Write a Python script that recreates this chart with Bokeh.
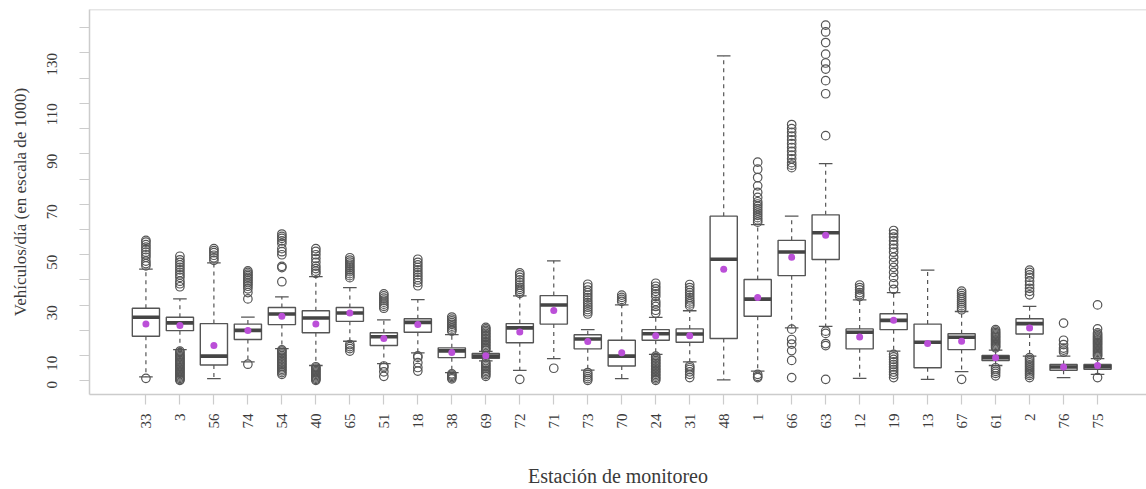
import math
import numpy as np
from bokeh.plotting import figure
from bokeh.models import Range1d, FixedTicker, Span
from bokeh.embed import file_html
from bokeh.resources import INLINE

# Monitoring stations, in plotting order
stations = ["33", "3", "56", "74", "54", "40", "65", "51", "18", "38", "69", "72", "71",
            "73", "70", "24", "31", "48", "1", "66", "63", "12", "19", "13", "67", "61",
            "2", "76", "75"]

# Five-number summaries (thousands of vehicles per day)
whisker_lo = [1.6, 12.4, 0.9, 7.5, 12.8, 6.1, 15.7, 6.8, 11.1, 3.3, 7.9, 4.2, 8.8,
              4.3, 0.9, 10.5, 7.5, 0.4, 3.9, 21.0, 21.6, 1.0, 11.8, 0.6, 3.7, 6.1,
              9.8, 1.3, 2.6]
q1 = [17.7, 19.9, 6.3, 16.4, 22.3, 19.1, 23.6, 14.0, 19.3, 9.2, 8.9, 15.1, 22.5,
      12.7, 5.9, 16.1, 15.3, 16.8, 25.6, 41.7, 48.1, 12.7, 20.3, 5.2, 12.4, 8.1,
      18.6, 4.2, 4.6]
median = [25.2, 23.0, 9.8, 20.0, 26.5, 24.9, 26.9, 17.5, 23.2, 11.9, 9.8, 21.0, 30.1,
          16.6, 9.8, 18.7, 18.6, 48.2, 32.4, 51.1, 58.7, 19.3, 24.0, 15.3, 17.3, 9.2,
          22.7, 5.5, 5.6]
q3 = [28.8, 25.2, 22.7, 22.5, 29.1, 27.8, 29.1, 19.1, 24.6, 13.1, 10.9, 22.7, 33.8,
      18.3, 16.1, 20.3, 20.6, 65.3, 40.2, 55.7, 65.8, 20.6, 26.6, 22.5, 18.7, 10.1,
      24.6, 6.5, 6.5]
whisker_hi = [44.3, 32.5, 46.8, 25.3, 33.3, 41.3, 37.0, 24.2, 32.2, 18.3, 11.7, 33.7, 47.6,
              20.3, 30.1, 25.2, 27.8, 128.8, 61.9, 65.3, 86.1, 32.1, 35.0, 43.9, 27.5, 12.2,
              29.5, 9.8, 8.8]
means = [22.5, 21.9, 14.0, 20.0, 25.6, 22.5, 26.9, 16.8, 22.3, 11.2, 10.0, 19.4, 27.9,
         15.6, 11.1, 17.9, 17.9, 44.2, 33.0, 49.0, 57.7, 17.4, 24.0, 14.8, 15.7, 9.2,
         21.0, 5.5, 6.1]

# Atypical daily counts per station
outliers = [
    [1.0, 45.6, 46.5, 47.5, 49.0, 50.0, 51.0, 52.0, 53.0, 54.0, 55.0, 55.7],
    [37.3, 38.5, 39.5, 41.0, 42.0, 43.0, 44.0, 45.0, 46.0, 47.0, 48.0, 49.4,
     11.8, 11.2, 10.5, 10.0, 9.5, 9.0, 8.5, 8.0, 7.5, 7.0, 6.5, 6.0, 5.5, 5.0,
     4.5, 4.0, 3.5, 3.0, 2.5, 2.0, 1.5, 1.0, 0.5, 0.2],
    [47.8, 48.8, 49.8, 50.8, 51.6, 52.4],
    [6.6, 32.5, 35.0, 36.5, 37.5, 38.3, 39.0, 39.7, 40.4, 41.0, 41.7, 42.3, 43.0, 43.6],
    [39.3, 44.9, 45.4, 50.0, 51.2, 52.4, 54.5, 55.5, 56.5, 57.3, 58.2,
     12.3, 11.8, 11.2, 10.6, 10.0, 9.4, 8.8, 8.2, 7.6, 7.0, 6.4, 5.8, 5.2, 4.6,
     4.0, 3.3, 2.6],
    [42.6, 43.5, 44.5, 45.5, 47.0, 48.5, 50.0, 51.3, 52.4,
     5.6, 5.1, 4.6, 4.1, 3.6, 3.1, 2.6, 2.1, 1.6, 1.1, 0.6, 0.2],
    [40.9, 41.7, 42.5, 43.3, 44.0, 44.8, 45.5, 46.3, 47.1, 47.9, 48.8,
     14.4, 13.6, 12.8, 11.8],
    [28.8, 29.6, 30.4, 31.2, 32.0, 32.8, 33.7, 34.5, 5.9, 5.3, 3.6, 1.8],
    [37.7, 39.0, 40.0, 41.0, 42.0, 43.0, 44.0, 45.0, 46.0, 47.0, 48.2,
     9.9, 9.3, 7.2, 5.3, 3.9],
    [19.7, 20.3, 21.0, 21.7, 22.4, 23.1, 23.8, 24.5, 25.3, 2.8, 2.3, 1.8, 1.3, 0.8],
    [12.2, 12.8, 13.4, 14.0, 14.6, 15.2, 15.8, 16.4, 17.0, 17.6, 18.2, 18.8, 19.4,
     20.0, 20.6, 21.2, 7.3, 6.7, 6.1, 5.5, 4.9, 4.3, 3.7, 3.1, 2.5, 1.8],
    [34.7, 35.5, 36.3, 37.1, 38.0, 39.0, 40.0, 41.0, 42.0, 42.8, 0.6],
    [5.0],
    [26.5, 27.4, 28.3, 29.2, 30.1, 31.0, 32.0, 33.0, 34.0, 35.0, 36.0, 37.2, 38.3,
     3.3, 2.5, 1.7, 0.9, 0.2],
    [31.5, 32.3, 33.1, 34.0],
    [26.9, 28.0, 29.5, 30.5, 31.5, 33.5, 34.5, 35.5, 36.5, 37.5, 38.7,
     9.8, 9.2, 8.6, 8.0, 7.4, 6.8, 6.2, 5.6, 5.0, 4.4, 3.8, 3.2, 2.6, 2.0, 1.4,
     0.8, 0.2],
    [29.7, 30.5, 31.3, 32.1, 33.0, 34.0, 35.0, 36.0, 37.0, 38.2,
     5.9, 5.2, 4.5, 3.6, 2.6, 1.3],
    [],
    [62.9, 63.8, 64.7, 65.6, 66.5, 67.4, 68.3, 69.2, 70.1, 71.0, 72.7, 74.7, 77.3,
     80.6, 83.9, 86.7, 2.6, 1.8, 1.3],
    [84.5, 85.5, 86.5, 88.0, 89.5, 91.0, 92.5, 94.0, 95.5, 97.0, 98.5, 100.0, 101.6,
     20.5, 16.4, 14.6, 12.0, 8.1, 1.3],
    [97.2, 113.8, 119.0, 123.6, 126.0, 129.5, 134.1, 138.3, 141.0,
     19.7, 18.8, 14.8, 14.0, 0.6],
    [33.4, 34.2, 35.0, 36.1, 37.0, 38.0],
    [36.3, 38.5, 41.0, 43.0, 45.0, 47.0, 49.0, 51.0, 52.5, 54.0, 55.5, 57.0, 58.3,
     59.6, 10.5, 9.5, 8.5, 7.5, 6.5, 5.5, 4.5, 3.5, 2.5, 1.3],
    [],
    [28.2, 29.0, 29.8, 30.6, 31.4, 32.2, 33.0, 33.8, 34.7, 35.6, 0.6],
    [13.1, 13.6, 14.1, 14.6, 15.1, 15.6, 16.1, 16.6, 17.1, 17.6, 18.1, 18.6, 19.1,
     19.7, 20.3, 5.2, 4.5, 3.8, 3.0, 2.0],
    [34.1, 35.5, 36.7, 38.0, 39.5, 41.0, 42.0, 43.0, 43.9,
     9.2, 8.5, 7.8, 7.1, 6.4, 5.7, 5.0, 4.3, 3.6, 2.9, 2.2, 1.3],
    [11.4, 12.2, 13.0, 14.4, 16.1, 22.9],
    [9.8, 10.3, 10.8, 11.3, 11.8, 12.3, 12.8, 13.3, 13.8, 14.3, 14.8, 15.3, 15.8,
     16.3, 16.8, 17.3, 17.8, 18.4, 19.0, 20.6, 30.1, 1.3],
]

y_ticks = list(range(0, 150, 10))
y_labelled = [0, 10, 30, 50, 70, 90, 110, 130]

FONT = "Liberation Serif"
FRAME = "#cccccc"
INK = "#555555"
TEXT = "#3a3a3a"
MEAN_COLOR = "#bb4fd8"

pos = np.arange(1, len(stations) + 1, dtype=float)
box_w = 0.8
cap_w = 0.4

p = figure(width=1146, height=489,
           x_range=Range1d(-0.66, 30.44), y_range=Range1d(-5.4, 147.2),
           output_backend="svg", toolbar_location=None,
           min_border_left=89, min_border_right=0, min_border_top=9,
           min_border_bottom=92)
p.outline_line_color = None
p.xgrid.visible = False
p.ygrid.visible = False
p.background_fill_color = "white"
p.border_fill_color = "white"

# whiskers
p.segment(pos, q3, pos, whisker_hi, line_color=INK, line_width=1.2, line_dash="4 4")
p.segment(pos, q1, pos, whisker_lo, line_color=INK, line_width=1.2, line_dash="4 4")
# whisker caps
p.segment(pos - cap_w / 2, whisker_hi, pos + cap_w / 2, whisker_hi, line_color=INK, line_width=1.3)
p.segment(pos - cap_w / 2, whisker_lo, pos + cap_w / 2, whisker_lo, line_color=INK, line_width=1.3)
# boxes
p.vbar(x=pos, width=box_w, bottom=q1, top=q3, fill_color="white",
       line_color=INK, line_width=1.4)
# medians
p.segment(pos - box_w / 2, median, pos + box_w / 2, median, line_color="#454545", line_width=3.6)

# outliers
ox = [pos[i] for i, vals in enumerate(outliers) for _ in vals]
oy = [v for vals in outliers for v in vals]
p.scatter(ox, oy, marker="circle", size=8.5, fill_color=None, line_color=INK, line_width=1.2)

# means
p.scatter(pos, means, marker="circle", size=7, fill_color=MEAN_COLOR, line_color=None)

# top edge of the plotting box
p.add_layout(Span(location=147.2, dimension="width", line_color=FRAME, line_width=1.5))

# x axis
xa = p.xaxis[0]
xa.ticker = FixedTicker(ticks=list(pos))
xa.major_label_overrides = {float(x): s for x, s in zip(pos, stations)}
xa.major_label_overrides.update({int(x): s for x, s in zip(pos, stations)})
xa.major_label_orientation = math.pi / 2
xa.axis_line_color = FRAME
xa.axis_line_width = 1.5
xa.major_tick_line_color = FRAME
xa.major_tick_line_width = 1.2
xa.major_tick_in = 0
xa.major_tick_out = 10
xa.minor_tick_line_color = None
xa.major_label_standoff = 9
xa.major_label_text_font = FONT
xa.major_label_text_font_size = "15px"
xa.major_label_text_color = TEXT
xa.axis_label = "Estación de monitoreo"
xa.axis_label_text_font = FONT
xa.axis_label_text_font_size = "20px"
xa.axis_label_text_font_style = "normal"
xa.axis_label_text_color = TEXT
xa.axis_label_standoff = 33

# y axis
ya = p.yaxis[0]
ya.ticker = FixedTicker(ticks=y_ticks)
ya.major_label_overrides = {t: (str(t) if t in y_labelled else "") for t in y_ticks}
ya.major_label_orientation = math.pi / 2
ya.axis_line_color = FRAME
ya.axis_line_width = 1.5
ya.major_tick_line_color = FRAME
ya.major_tick_line_width = 1.2
ya.major_tick_in = 0
ya.major_tick_out = 10
ya.minor_tick_line_color = None
ya.major_label_standoff = 27
ya.major_label_text_font = FONT
ya.major_label_text_font_size = "15px"
ya.major_label_text_color = TEXT
ya.axis_label = "Vehículos/día (en escala de 1000)"
ya.axis_label_text_font = FONT
ya.axis_label_text_font_size = "17px"
ya.axis_label_text_font_style = "normal"
ya.axis_label_text_color = TEXT
ya.axis_label_standoff = 10

open("out.html", "w").write(file_html(p, INLINE))
